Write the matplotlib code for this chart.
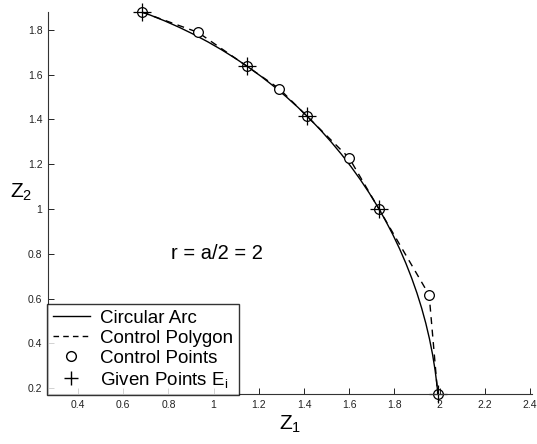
import matplotlib
matplotlib.use("Agg")
import matplotlib.pyplot as plt
from matplotlib.patches import Arc
from matplotlib.lines import Line2D

plt.rcParams['font.family'] = ['Liberation Sans', 'DejaVu Sans']
plt.rcParams['mathtext.fontset'] = 'custom'
plt.rcParams['mathtext.rm'] = 'Liberation Sans'
plt.rcParams['mathtext.it'] = 'Liberation Sans'

# given points on the arc
given_x = [0.684, 1.147, 1.414, 1.732, 1.992]
given_y = [1.879, 1.638, 1.414, 1.000, 0.174]

# control points between them
ctrl_x = [0.931, 1.290, 1.600, 1.954]
ctrl_y = [1.789, 1.538, 1.228, 0.616]

# arc: centre, radius, angles in degrees
arc_center = (0.0, 0.0)
arc_radius = 2.0
arc_theta1 = 5.0
arc_theta2 = 70.0

xticks = [0.4, 0.6, 0.8, 1.0, 1.2, 1.4, 1.6, 1.8, 2.0, 2.2, 2.4]
xtick_labels = ["0.4", "0.6", "0.8", "1", "1.2", "1.4", "1.6", "1.8", "2", "2.2", "2.4"]
yticks = [0.2, 0.4, 0.6, 0.8, 1.0, 1.2, 1.4, 1.6, 1.8]
ytick_labels = ["0.2", "0.4", "0.6", "0.8", "1", "1.2", "1.4", "1.6", "1.8"]

# polygon: given, ctrl, given, ctrl, ...
poly_x, poly_y = [], []
for i in range(len(given_x)):
    poly_x.append(given_x[i]); poly_y.append(given_y[i])
    if i < len(ctrl_x):
        poly_x.append(ctrl_x[i]); poly_y.append(ctrl_y[i])

fig = plt.figure(figsize=(5.37, 4.44), dpi=100)
ax = fig.add_axes([0.0894, 0.1126, 0.9016, 0.8604])

ax.add_patch(Arc(arc_center, 2 * arc_radius, 2 * arc_radius,
                 theta1=arc_theta1, theta2=arc_theta2, color='black', lw=1.0))
ax.plot(poly_x, poly_y, color='black', lw=1.0, ls=(0, (5, 4)), clip_on=False)
ax.plot(ctrl_x, ctrl_y, 'o', mfc='white', mec='black', ms=7, mew=0.9, clip_on=False)
ax.plot(given_x, given_y, '+', color='black', ms=13, mew=0.9, clip_on=False)
ax.plot(given_x, given_y, 'o', mfc='none', mec='black', ms=7, mew=0.9, clip_on=False)

ax.set_xlim(0.267, 2.41)
ax.set_ylim(0.174, 1.88)
ax.set_xticks(xticks)
ax.set_xticklabels(xtick_labels)
ax.set_yticks(yticks)
ax.set_yticklabels(ytick_labels)
ax.tick_params(direction='in', labelsize=7.5, length=4, width=0.6, pad=4,
               labelcolor='#222222')
for s in ['top', 'right']:
    ax.spines[s].set_visible(False)
for s in ['left', 'bottom']:
    ax.spines[s].set_linewidth(0.8)
    ax.spines[s].set_color('#333333')

ax.set_xlabel("Z$_1$", fontsize=15, labelpad=3)
ax.set_ylabel("Z$_2$", fontsize=15, rotation=0, labelpad=8)
ax.yaxis.set_label_coords(-0.055, 0.5)
ax.text(0.81, 0.80, "r = a/2 = 2", fontsize=14.5, va='center')

handles = [
    Line2D([], [], color='black', lw=1.0),
    Line2D([], [], color='black', lw=1.0, ls=(0, (4, 3))),
    Line2D([], [], ls='none', marker='o', mfc='white', mec='black', ms=7),
    Line2D([], [], ls='none', marker='+', color='black', ms=10),
]
labels = ["Circular Arc", "Control Polygon", "Control Points", "Given Points E$_\\mathrm{i}$"]
leg = ax.legend(handles, labels, loc='lower left', bbox_to_anchor=(-0.002, -0.003),
                fontsize=13.5, frameon=True, fancybox=False, edgecolor='black',
                handlelength=2.0, labelspacing=0.15, borderpad=0.3, handletextpad=0.55,
                borderaxespad=0)
leg.get_frame().set_linewidth(1.0)

fig.savefig("out.png", dpi=100)
